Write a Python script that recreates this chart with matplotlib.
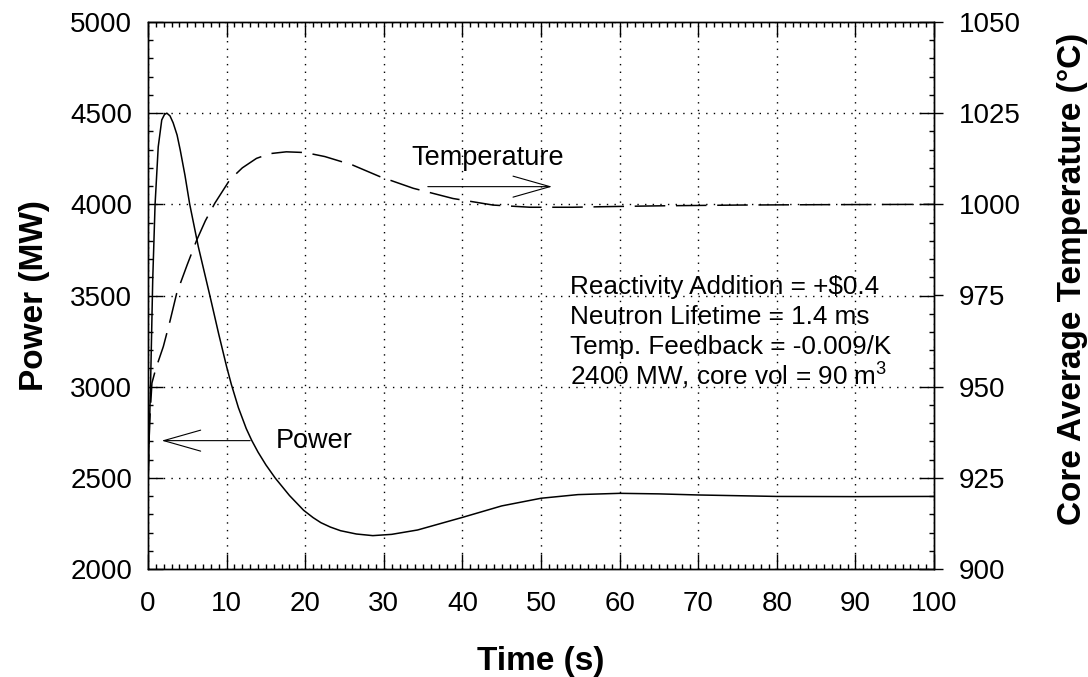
import matplotlib
matplotlib.use("Agg")
import matplotlib.pyplot as plt
from matplotlib.ticker import MultipleLocator

plt.rcParams['font.family'] = ['Liberation Sans', 'DejaVu Sans']
plt.rcParams['mathtext.fontset'] = 'custom'
plt.rcParams['mathtext.rm'] = 'Liberation Sans'
plt.rcParams['mathtext.it'] = 'Liberation Sans:italic'
plt.rcParams['mathtext.bf'] = 'Liberation Sans:bold'

# ---- data ----
power_t = [0, 0.15, 0.34, 0.6, 0.9, 1.3, 1.75, 2.1, 2.4, 2.8, 3.2, 3.7, 4.1,
           4.7, 5.3, 6.4, 7.9, 9.0, 10.0, 10.6, 11.5, 12.5, 13.2, 14.0, 15.0,
           16.2, 18.0, 19.8, 21.0, 22.0, 23.2, 24.5, 26.5, 28.6, 31.0, 34.3,
           40, 45, 50, 54.7, 60, 65, 70, 80, 90, 100]
power_mw = [2450, 2720, 3040, 3585, 4000, 4315, 4463, 4493, 4500, 4485, 4447,
            4380, 4298, 4160, 4002, 3768, 3494, 3288, 3110, 3013, 2885, 2770,
            2705, 2641, 2571, 2498, 2403, 2322, 2282, 2254, 2230, 2210, 2192,
            2183, 2190, 2214, 2283, 2346, 2388, 2408, 2415, 2412, 2406, 2398,
            2397, 2398]

temp_t = [0, 0.2, 0.5, 1.0, 1.95, 2.8, 3.65, 5.0, 6.2, 7.3, 8.5, 10.4, 12.0,
          13.8, 15.5, 17.6, 20.0, 22.5, 26.0, 29.5, 33.75, 38.8, 43.9, 48.6,
          54, 59.2, 65.5, 75, 85, 100]
temp_c = [923, 940, 951, 955, 961, 968, 975.6, 983.5, 990.2, 995.5, 1000.3,
          1006.7, 1010, 1012.6, 1013.9, 1014.4, 1014.2, 1013.1, 1010.8,
          1007.6, 1004.4, 1001.6, 999.8, 999.2, 999.2, 999.4, 999.6, 999.8,
          999.9, 1000]

info_lines = ["Reactivity Addition = +\\$0.4",
              "Neutron Lifetime = 1.4 ms",
              "Temp. Feedback = -0.009/K",
              "2400 MW, core vol = 90 m$^3$"]

fig = plt.figure(figsize=(10.88, 6.77), dpi=100)
ax = fig.add_axes([148/1088, 1-569/677, 786/1088, 547/677])
ax2 = ax.twinx()

ax.plot(power_t, power_mw, color='black', lw=1.1)
ax2.plot(temp_t, temp_c, color='black', lw=1.1, dashes=(20, 7))

ax.set_xlim(0, 100)
ax.set_ylim(2000, 5000)
ax2.set_ylim(900, 1050)

ax.xaxis.set_major_locator(MultipleLocator(10))
ax.xaxis.set_minor_locator(MultipleLocator(1))
ax.yaxis.set_major_locator(MultipleLocator(500))
ax.yaxis.set_minor_locator(MultipleLocator(100))
ax2.yaxis.set_major_locator(MultipleLocator(25))

ax.grid(True, which='major', color='black', linestyle=(0, (1, 4.5)), lw=1.0)

ax.tick_params(axis='both', which='major', direction='in', length=11, width=1,
               top=True, right=True, labelsize=20)
ax.tick_params(axis='both', which='minor', direction='in', length=3.6, width=1,
               top=True, right=True)
ax.tick_params(axis='x', which='major', pad=16)
ax.tick_params(axis='y', which='major', pad=11.5)
ax2.tick_params(axis='y', which='major', direction='out', length=6.5, width=1,
                labelsize=20, pad=11.5)
ax2.tick_params(axis='y', which='minor', length=0)

for a in (ax, ax2):
    for s in a.spines.values():
        s.set_linewidth(1.0)

ax.set_xlabel("Time (s)", fontsize=24, fontweight='bold')
ax.xaxis.set_label_coords(0.5, -0.1408)
ax.set_ylabel("Power (MW)", fontsize=24, fontweight='bold', va='center')
ax.yaxis.set_label_coords(-0.1444, 0.5)
ax2.set_ylabel("Core Average Temperature (°C)", fontsize=24, fontweight='bold',
               rotation=90, va='center')
ax2.yaxis.set_label_coords(1.176, 0.53)

# annotations
arrow_kw = dict(arrowstyle='->,head_length=0.95,head_width=0.27',
                color='black', lw=0.8, mutation_scale=28,
                shrinkA=0, shrinkB=0)
ax.text(33.5, 4216, "Temperature", fontsize=19.5, va='baseline', ha='left')
ax.annotate('', xy=(51.4, 4097), xytext=(35.6, 4097), arrowprops=arrow_kw)
ax.text(16.2, 2662, "Power", fontsize=19.5, va='baseline', ha='left')
ax.annotate('', xy=(1.74, 2704), xytext=(13.0, 2704), arrowprops=arrow_kw)

info_y = [3510, 3343, 3177, 3010]
for txt, yv in zip(info_lines, info_y):
    ax.text(53.7, yv, txt, fontsize=18.8, va='baseline', ha='left')

fig.savefig("out.png", dpi=100)
